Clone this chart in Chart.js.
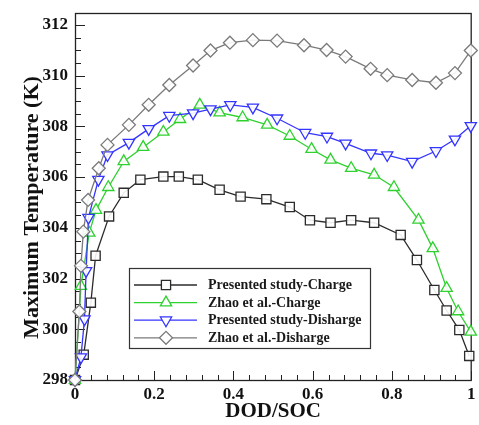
<!DOCTYPE html>
<html><head><meta charset="utf-8">
<script src="https://cdn.jsdelivr.net/npm/chart.js@4/dist/chart.umd.min.js"></script>
<style>html,body{margin:0;padding:0;background:#fff}#wrap{width:479px;height:425px}</style>
</head><body><div id="wrap"><canvas id="c" width="479" height="425"></canvas></div>
<script>
// ---- data ----
const seriesLabels = ['Presented study-Charge', 'Zhao et al.-Charge', 'Presented study-Disharge', 'Zhao et al.-Disharge'];

const presentedChargeX = [0, 0.022, 0.040, 0.052, 0.086, 0.123, 0.165, 0.223, 0.262, 0.310, 0.365, 0.418, 0.483, 0.542, 0.593, 0.645, 0.697, 0.755, 0.822, 0.863, 0.907, 0.938, 0.970, 0.995];
const presentedChargeY = [298.0, 299.0, 301.05, 302.9, 304.45, 305.38, 305.9, 306.02, 306.02, 305.9, 305.5, 305.23, 305.13, 304.82, 304.3, 304.2, 304.3, 304.2, 303.72, 302.73, 301.55, 300.74, 299.97, 298.95];

const zhaoChargeX = [0, 0.015, 0.036, 0.053, 0.084, 0.123, 0.172, 0.223, 0.265, 0.315, 0.365, 0.423, 0.485, 0.542, 0.597, 0.645, 0.697, 0.755, 0.805, 0.867, 0.903, 0.938, 0.967, 0.999];
const zhaoChargeY = [298.0, 301.7, 303.8, 304.7, 305.6, 306.62, 307.18, 307.78, 308.28, 308.85, 308.54, 308.35, 308.06, 307.62, 307.1, 306.68, 306.35, 306.09, 305.6, 304.31, 303.19, 301.62, 300.7, 299.9];

const presentedDischargeX = [0, 0.015, 0.024, 0.028, 0.034, 0.059, 0.082, 0.136, 0.186, 0.238, 0.298, 0.342, 0.392, 0.449, 0.510, 0.581, 0.636, 0.683, 0.747, 0.788, 0.851, 0.911, 0.959, 0.999];
const presentedDischargeY = [298.0, 298.9, 300.4, 302.3, 304.4, 305.9, 306.87, 307.36, 307.9, 308.42, 308.52, 308.68, 308.85, 308.75, 308.32, 307.75, 307.6, 307.33, 306.94, 306.87, 306.61, 307.03, 307.49, 308.02];

const zhaoDischargeX = [0, 0.011, 0.015, 0.021, 0.033, 0.060, 0.082, 0.136, 0.186, 0.238, 0.298, 0.342, 0.391, 0.449, 0.510, 0.578, 0.635, 0.683, 0.746, 0.788, 0.851, 0.911, 0.959, 0.999];
const zhaoDischargeY = [298.0, 300.7, 302.5, 303.85, 305.1, 306.35, 307.27, 308.06, 308.85, 309.63, 310.4, 310.99, 311.3, 311.4, 311.38, 311.2, 311.01, 310.75, 310.27, 310.02, 309.83, 309.72, 310.1, 310.99];

const xTickValues = [0, 0.2, 0.4, 0.6, 0.8, 1];
const yTickValues = [298, 300, 302, 304, 306, 308, 310, 312];

// ---- build ----
const pairs = (xs, ys) => xs.map((x, i) => ({x: x, y: ys[i]}));
const FONT = '"Liberation Serif", "Times New Roman", serif';
const styles = [
  {color: '#2b2b2b', pointStyle: 'rect', rotation: 0},
  {color: '#2fd12f', pointStyle: 'triangle', rotation: 0},
  {color: '#3434ff', pointStyle: 'triangle', rotation: 180},
  {color: '#7a7a7a', pointStyle: 'rectRot', rotation: 0}
];
const allData = [
  pairs(presentedChargeX, presentedChargeY),
  pairs(zhaoChargeX, zhaoChargeY),
  pairs(presentedDischargeX, presentedDischargeY),
  pairs(zhaoDischargeX, zhaoDischargeY)
];
const datasets = allData.map((d, i) => ({
  label: seriesLabels[i],
  data: d,
  showLine: true,
  borderColor: styles[i].color,
  backgroundColor: '#ffffff',
  borderWidth: 1.3,
  pointStyle: styles[i].pointStyle,
  pointRotation: styles[i].rotation,
  pointRadius: 6.5,
  pointBorderWidth: 1.3,
  pointBorderColor: styles[i].color,
  pointBackgroundColor: 'rgba(255,255,255,0.9)',
  tension: 0,
  clip: false
})).reverse();

const frameTicks = {
  id: 'frameTicks',
  beforeDatasetsDraw(chart) {
    const ctx = chart.ctx, a = chart.chartArea;
    const xs = chart.scales.x, ys = chart.scales.y;
    ctx.save();
    ctx.strokeStyle = '#222';
    ctx.lineWidth = 1;
    ctx.beginPath();
    for (let k = 0; k <= 25; k++) {
      const v = k * 0.04;
      const px = Math.round(xs.getPixelForValue(v)) + 0.5;
      const len = (k % 5 === 0) ? 9 : 5;
      ctx.moveTo(px, a.bottom); ctx.lineTo(px, a.bottom - len);
    }
    for (let k = 0; k <= 28; k++) {
      const v = 298 + k * 0.5;
      const py = Math.round(ys.getPixelForValue(v)) + 0.5;
      const len = (k % 4 === 0) ? 10 : 6;
      ctx.moveTo(a.left, py); ctx.lineTo(a.left + len, py);
    }
    ctx.stroke();
    ctx.lineWidth = 1.3;
    ctx.strokeRect(a.left + 0.5, a.top + 0.5, a.right - a.left - 0.5, a.bottom - a.top);
    ctx.restore();
  },
  afterDraw(chart) {
    const ctx = chart.ctx;
    ctx.save();
    const bx = 129, by = 268, bw = 241, bh = 80;
    ctx.fillStyle = '#fff';
    ctx.fillRect(bx, by, bw, bh);
    ctx.strokeStyle = '#333';
    ctx.lineWidth = 1.2;
    ctx.strokeRect(bx + 0.5, by + 0.5, bw, bh);
    for (let i = 0; i < 4; i++) {
      const y = 285 + i * 17.6;
      ctx.strokeStyle = styles[i].color;
      ctx.lineWidth = 1.3;
      ctx.beginPath(); ctx.moveTo(134, y); ctx.lineTo(197, y); ctx.stroke();
      ctx.fillStyle = '#fff';
      Chart.helpers.drawPoint(ctx, {pointStyle: styles[i].pointStyle, rotation: styles[i].rotation, radius: 6.5, borderWidth: 1.3}, 166, y);
      ctx.fillStyle = '#1a1a1a';
      ctx.font = 'bold 14px ' + FONT;
      ctx.textBaseline = 'middle';
      ctx.textAlign = 'left';
      ctx.fillText(seriesLabels[i], 208, y + 0.5);
    }
    ctx.restore();
  }
};

new Chart(document.getElementById('c'), {
  type: 'scatter',
  data: {datasets: datasets},
  options: {
    responsive: false,
    animation: false,
    devicePixelRatio: 1,
    layout: {padding: {top: 13, right: 2, left: 0, bottom: 0}},
    plugins: {legend: {display: false}, tooltip: {enabled: false}},
    scales: {
      x: {
        type: 'linear', min: 0, max: 1,
        afterBuildTicks: s => { s.ticks = xTickValues.map(v => ({value: v})); },
        afterFit: s => { s.height = 45; s.paddingLeft = 0; s.paddingRight = 0; },
        grid: {display: false, drawTicks: false},
        border: {display: false},
        ticks: {padding: 4, color: '#111', font: {family: FONT, weight: 'bold', size: 17}, maxRotation: 0,
                callback: v => String(v)},
        title: {display: true, text: 'DOD/SOC', color: '#111', font: {family: FONT, weight: 'bold', size: 21}, padding: {top: 0, bottom: 1}}
      },
      y: {
        type: 'linear', min: 298, max: 312.47,
        afterBuildTicks: s => { s.ticks = yTickValues.map(v => ({value: v})); },
        afterFit: s => { s.width = 75; s.paddingTop = 0; s.paddingBottom = 0; },
        grid: {display: false, drawTicks: false},
        border: {display: false},
        ticks: {padding: 7, color: '#111', font: {family: FONT, weight: 'bold', size: 17}},
        title: {display: true, text: 'Maximum Temperature (K)\u00a0\u00a0\u00a0\u00a0', color: '#111', font: {family: FONT, weight: 'bold', size: 22}, padding: {top: 19, bottom: 0}}
      }
    }
  },
  plugins: [frameTicks]
});
</script>
</body></html>
